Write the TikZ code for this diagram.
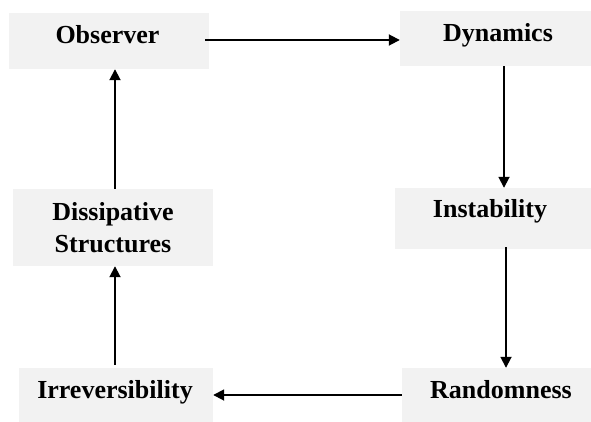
\documentclass[tikz,border=0pt]{standalone}
\usepackage{fontspec}
\setmainfont{Liberation Serif}
\usetikzlibrary{arrows.meta,calc}
\definecolor{boxgray}{HTML}{F2F2F2}
\begin{document}
\begin{tikzpicture}[x=1pt,y=-1pt,
  panel/.style={rectangle, fill=boxgray, draw=none, inner sep=0pt},
  caption/.style={font=\fontsize{26}{32}\selectfont\bfseries, inner sep=0pt, anchor=base, align=center},
  flow/.style={line width=1.8pt, -{Triangle[length=11pt,width=11pt]}}]
\useasboundingbox (0,0) rectangle (591,422);
% grey panels
\node[panel, minimum width=200pt, minimum height=56pt] (obs)  at (109,41)    {};
\node[panel, minimum width=191pt, minimum height=55pt] (dyn)  at (495.5,38.5) {};
\node[panel, minimum width=200pt, minimum height=77pt] (diss) at (113,227.5) {};
\node[panel, minimum width=196pt, minimum height=61pt] (inst) at (493,218.5) {};
\node[panel, minimum width=194pt, minimum height=54pt] (irr)  at (116,395)   {};
\node[panel, minimum width=189pt, minimum height=54pt] (rand) at (496.5,395) {};
% captions
\node[caption] (obs-t)  at (107.5,44) {Observer};
\node[caption] (dyn-t)  at (498,42)   {Dynamics};
\node[caption] (diss-t) at (113,252)  {Dissipative\\Structures};
\node[caption] (inst-t) at (490,217)  {Instability};
\node[caption] (irr-t)  at (115,398)  {Irreversibility};
\node[caption] (rand-t) at (501,398)  {Randomness};
% start points of the arrows
\coordinate (s1) at ($(obs.east)+(-4,-1)$);
\coordinate (s2) at ($(dyn.south)+(8.5,0)$);
\coordinate (s3) at ($(inst.south)+(13,-2)$);
\coordinate (s4) at (rand.west);
\coordinate (s5) at ($(irr.north)+(-1,-3)$);
\coordinate (s6) at ($(diss.north)+(2,0)$);
% cycle of arrows
\draw[flow] (s1) -- (s1 -| dyn.west);
\draw[flow] (s2) -- (s2 |- inst.north);
\draw[flow] (s3) -- (s3 |- rand.north);
\draw[flow] (s4) -- (s4 -| irr.east);
\draw[flow] (s5) -- (s5 |- diss.south);
\draw[flow] (s6) -- (s6 |- obs.south);
\end{tikzpicture}
\end{document}
